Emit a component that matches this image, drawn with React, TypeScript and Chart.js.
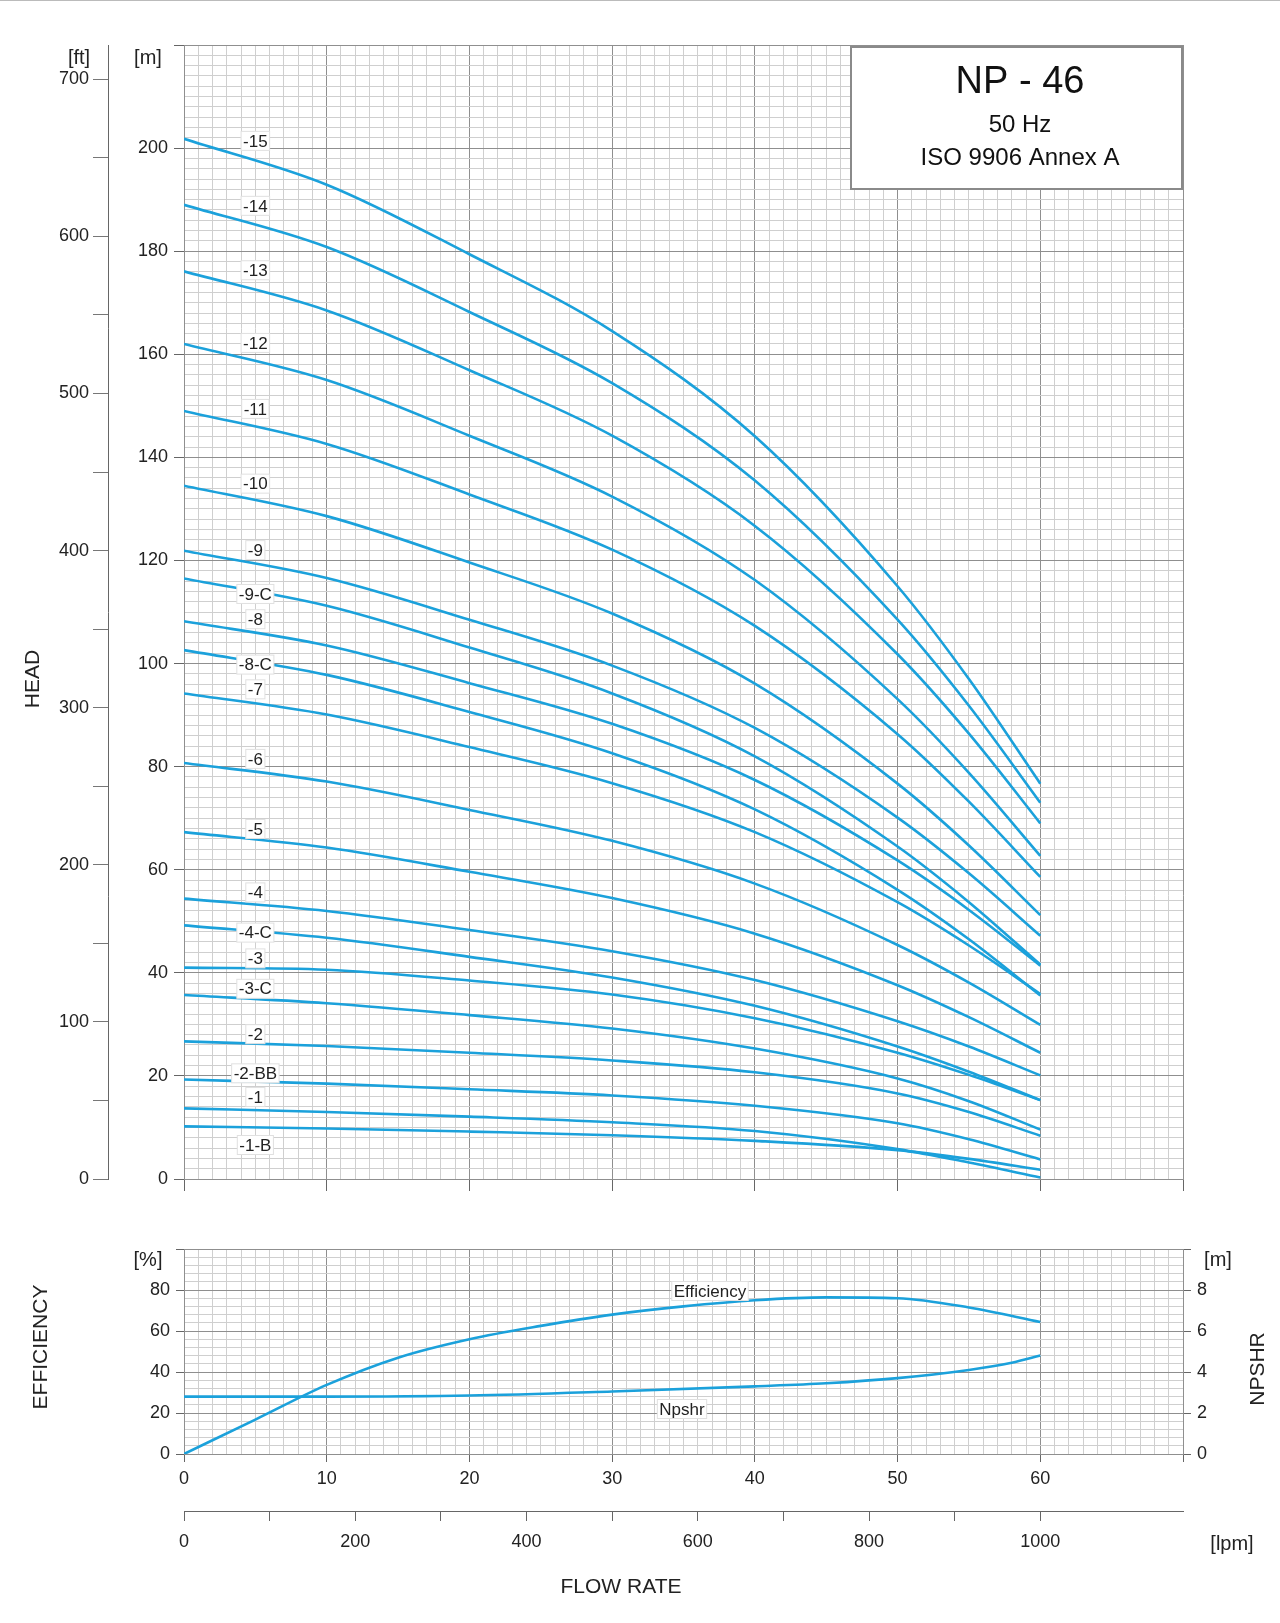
import React, { useEffect, useRef } from "react";
import { Chart, registerables } from "chart.js";
Chart.register(...registerables);

const FLOW = [0, 10, 20, 30, 40, 50, 55, 60];
const CURVE_NAMES = ["-15","-14","-13","-12","-11","-10","-9","-9-C","-8","-8-C","-7","-6","-5","-4","-4-C","-3","-3-C","-2","-2-BB","-1","-1-B"];
const H_15 = [201.8, 192.9, 179.4, 164.5, 144.1, 115.0, 97.0, 76.7];
const H_14 = [189.0, 180.8, 168.2, 154.4, 135.5, 108.5, 91.8, 73.0];
const H_13 = [176.1, 168.5, 156.9, 144.2, 126.7, 101.8, 86.4, 69.0];
const H_12 = [162.0, 155.0, 144.2, 132.4, 116.2, 93.1, 78.8, 62.7];
const H_11 = [149.0, 142.6, 132.8, 122.1, 107.3, 86.3, 73.2, 58.6];
const H_10 = [134.5, 128.6, 119.6, 109.7, 96.1, 76.7, 64.7, 51.2];
const H_9 = [121.9, 116.6, 108.5, 99.6, 87.5, 70.1, 59.3, 47.2];
const H_9C = [116.5, 111.2, 103.1, 94.2, 82.0, 64.5, 53.7, 41.6];
const H_8 = [108.2, 103.5, 96.2, 88.3, 77.4, 61.8, 52.2, 41.4];
const H_8C = [102.6, 97.8, 90.6, 82.6, 71.7, 56.1, 46.5, 35.6];
const H_7 = [94.2, 90.1, 83.8, 76.8, 67.3, 53.7, 45.3, 35.9];
const H_6 = [80.7, 77.1, 71.6, 65.6, 57.3, 45.4, 38.1, 29.9];
const H_5 = [67.3, 64.3, 59.6, 54.5, 47.6, 37.6, 31.4, 24.5];
const H_4 = [54.4, 52.0, 48.3, 44.2, 38.6, 30.6, 25.7, 20.1];
const H_4C = [49.2, 46.8, 43.1, 39.1, 33.6, 25.7, 20.8, 15.3];
const H_3 = [41.0, 40.6, 38.5, 35.8, 31.2, 24.5, 20.2, 15.3];
const H_3C = [35.7, 34.1, 31.8, 29.2, 25.3, 19.5, 15.1, 9.6];
const H_2 = [26.7, 25.8, 24.5, 23.0, 20.7, 16.6, 13.0, 8.4];
const H_2BB = [19.3, 18.5, 17.4, 16.2, 14.2, 10.8, 7.7, 3.8];
const H_1 = [13.7, 13.0, 12.1, 11.0, 9.3, 5.8, 3.2, 0.3];
const H_1B = [10.2, 9.8, 9.2, 8.5, 7.4, 5.6, 3.9, 1.8];
const CURVES = [H_15,H_14,H_13,H_12,H_11,H_10,H_9,H_9C,H_8,H_8C,H_7,H_6,H_5,H_4,H_4C,H_3,H_3C,H_2,H_2BB,H_1,H_1B];
const LABEL_Q = 5;
const LABEL_H = [201.4,188.8,176.3,162.2,149.4,134.9,122,113.5,108.6,99.8,95,81.5,67.9,55.6,47.8,42.8,36.9,28.1,20.5,15.9,6.6];

const EFF_Q = [0, 5, 10, 15, 20, 25, 30, 35, 40, 45, 50, 55, 60];
const EFF = [0, 16.8, 33.7, 47, 56, 62.5, 68, 72, 75, 76.4, 76, 71.5, 64.4];
const NPSH_Q = [0, 10, 20, 30, 40, 45, 50, 55, 58, 60];
const NPSH = [2.8, 2.8, 2.85, 3.05, 3.3, 3.45, 3.7, 4.1, 4.45, 4.8];

const BLUE = "#1ba1db";
const FONT = "Liberation Sans";
const MINOR = "#cfcfcf";
const MAJOR = "#8f8f8f";
const TXT = "#222";

function labelBox(ctx: CanvasRenderingContext2D, text: string, x: number, y: number, size: number) {
  ctx.font = `${size}px "${FONT}"`;
  const w = ctx.measureText(text).width;
  ctx.fillStyle = "#fff";
  ctx.fillRect(x - w / 2 - 2, y - size / 2 - 1, w + 4, size + 2);
  ctx.strokeStyle = "#e0e0e0";
  ctx.lineWidth = 1;
  ctx.strokeRect(x - w / 2 - 2, y - size / 2 - 1, w + 4, size + 2);
  ctx.fillStyle = TXT;
  ctx.textAlign = "center";
  ctx.textBaseline = "middle";
  ctx.fillText(text, x, y + 1);
}

export default function App() {
  const topRef = useRef<HTMLCanvasElement>(null);
  const botRef = useRef<HTMLCanvasElement>(null);

  useEffect(() => {
    const tickFont = { family: FONT, size: 18 };
    const topPlugin = {
      id: "topDecor",
      afterDatasetsDraw(chart: any) {
        const ctx = chart.ctx;
        const xs = chart.scales.x, ys = chart.scales.y;
        ctx.save();
        CURVE_NAMES.forEach((n, i) => labelBox(ctx, n, xs.getPixelForValue(LABEL_Q), ys.getPixelForValue(LABEL_H[i]), 17));
        ctx.fillStyle = "#fff";
        ctx.fillRect(851, 47, 331, 142);
        ctx.strokeStyle = "#8a8a8a";
        ctx.lineWidth = 2;
        ctx.strokeRect(851, 47, 331, 142);
        ctx.fillStyle = "#111";
        ctx.textAlign = "center";
        ctx.textBaseline = "middle";
        ctx.font = `38px "${FONT}"`;
        ctx.fillText("NP - 46", 1020, 83);
        ctx.font = `24px "${FONT}"`;
        ctx.fillText("50 Hz", 1020, 125);
        ctx.fillText("ISO 9906 Annex A", 1020, 158);
        ctx.font = `20px "${FONT}"`;
        ctx.fillStyle = TXT;
        ctx.fillText("[ft]", 79, 58);
        ctx.fillText("[m]", 148, 58);
        ctx.save();
        ctx.translate(33, 679);
        ctx.rotate(-Math.PI / 2);
        ctx.font = `21px "${FONT}"`;
        ctx.fillText("HEAD", 0, 0);
        ctx.restore();
        ctx.fillStyle = "#bbb";
        ctx.fillRect(0, 0, 1280, 1);
        ctx.restore();
      },
    };
    const majorFn = (step: number, major: string, minor: string) => (c: any) =>
      c.tick && Math.abs(c.tick.value % step) < 1e-6 ? major : minor;

    const top = new Chart(topRef.current!, {
      type: "line",
      data: {
        datasets: CURVES.map((h, i) => ({
          label: CURVE_NAMES[i],
          data: FLOW.map((q, j) => ({ x: q, y: h[j] })),
          borderColor: BLUE,
          borderWidth: 2.6,
          pointRadius: 0,
          cubicInterpolationMode: "monotone" as const,
          fill: false,
        })),
      },
      options: {
        animation: false,
        responsive: false,
        layout: { padding: { left: 41, top: 45, right: 97, bottom: 0 } },
        plugins: { legend: { display: false }, tooltip: { enabled: false } },
        scales: {
          x: {
            type: "linear", min: 0, max: 70,
            ticks: { stepSize: 1, display: false, autoSkip: false },
            grid: { color: majorFn(10, MAJOR, MINOR), tickColor: majorFn(10, "#666", "rgba(0,0,0,0)"), tickLength: 12 },
            border: { color: MAJOR },
            afterFit: (s: any) => { s.height = 21; },
          },
          y: {
            type: "linear", position: "left", min: 0, max: 220, weight: 0,
            ticks: { stepSize: 2, autoSkip: false, font: tickFont, color: TXT, padding: 6,
              callback: (v: any) => (v % 20 === 0 && v <= 200 ? String(v) : "") },
            grid: { color: majorFn(20, MAJOR, MINOR), tickColor: majorFn(20, "#666", "rgba(0,0,0,0)"), tickLength: 10 },
            border: { color: MAJOR },
            afterFit: (s: any) => { s.width = 76; },
          },
          yft: {
            type: "linear", position: "left", min: 0, max: 220 * 3.28084, weight: 1,
            ticks: { stepSize: 50, autoSkip: false, font: tickFont, color: TXT, padding: 4,
              callback: (v: any) => (v % 100 === 0 ? String(v) : "") },
            grid: { drawOnChartArea: false, tickLength: 15, tickColor: majorFn(50, "#777", "rgba(0,0,0,0)") },
            border: { display: true, color: "#666" },
            afterFit: (s: any) => { s.width = 67; },
          },
        },
      } as any,
      plugins: [topPlugin],
    });

    const botPlugin = {
      id: "botDecor",
      afterDatasetsDraw(chart: any) {
        const ctx = chart.ctx;
        ctx.save();
        labelBox(ctx, "Efficiency", 710, 91, 17);
        labelBox(ctx, "Npshr", 682, 209, 17);
        ctx.fillStyle = TXT;
        ctx.textAlign = "center";
        ctx.textBaseline = "middle";
        ctx.font = `20px "${FONT}"`;
        ctx.fillText("[%]", 148, 60);
        ctx.fillText("[m]", 1218, 60);
        ctx.fillText("[lpm]", 1232, 344);
        ctx.font = `21px "${FONT}"`;
        ctx.fillText("FLOW RATE", 621, 387);
        ctx.save();
        ctx.translate(41, 147);
        ctx.rotate(-Math.PI / 2);
        ctx.fillText("EFFICIENCY", 0, 0);
        ctx.restore();
        ctx.save();
        ctx.translate(1258, 169);
        ctx.rotate(-Math.PI / 2);
        ctx.fillText("NPSHR", 0, 0);
        ctx.restore();
        ctx.restore();
      },
    };

    const bot = new Chart(botRef.current!, {
      type: "line",
      data: {
        datasets: [
          { label: "Efficiency", yAxisID: "y", data: EFF_Q.map((q, i) => ({ x: q, y: EFF[i] })),
            borderColor: BLUE, borderWidth: 2.6, pointRadius: 0, cubicInterpolationMode: "monotone" },
          { label: "Npshr", yAxisID: "y2", data: NPSH_Q.map((q, i) => ({ x: q, y: NPSH[i] })),
            borderColor: BLUE, borderWidth: 2.6, pointRadius: 0, cubicInterpolationMode: "monotone" },
        ],
      },
      options: {
        animation: false,
        responsive: false,
        layout: { padding: { left: 103, top: 49, right: 35, bottom: 0 } },
        plugins: { legend: { display: false }, tooltip: { enabled: false } },
        scales: {
          x: {
            type: "linear", position: "bottom", min: 0, max: 70, weight: 0,
            ticks: { stepSize: 1, autoSkip: false, font: tickFont, color: TXT, maxRotation: 0, padding: 6,
              callback: (v: any) => (v % 10 === 0 && v <= 60 ? String(v) : "") },
            grid: { color: majorFn(10, MAJOR, MINOR), tickColor: majorFn(10, "#666", "rgba(0,0,0,0)"), tickLength: 8 },
            border: { color: MAJOR },
            afterFit: (s: any) => { s.height = 57; },
          },
          xl: {
            type: "linear", position: "bottom", min: 0, max: 70 * 1000 / 60, weight: 1,
            ticks: { stepSize: 100, autoSkip: false, font: tickFont, color: TXT, maxRotation: 0, padding: 10,
              callback: (v: any) => (v % 200 === 0 && v <= 1000 ? String(v) : "") },
            grid: { drawOnChartArea: false, tickLength: 10, tickColor: majorFn(100, "#666", "rgba(0,0,0,0)") },
            border: { display: true, color: "#666" },
            afterFit: (s: any) => { s.height = 112; },
          },
          y: {
            type: "linear", position: "left", min: 0, max: 100,
            ticks: { stepSize: 4, autoSkip: false, font: tickFont, color: TXT, padding: 6,
              callback: (v: any) => (v % 20 === 0 && v <= 80 ? String(v) : "") },
            grid: { color: majorFn(20, MAJOR, MINOR), tickColor: majorFn(20, "#666", "rgba(0,0,0,0)"), tickLength: 8 },
            border: { color: MAJOR },
            afterFit: (s: any) => { s.width = 81; },
          },
          y2: {
            type: "linear", position: "right", min: 0, max: 10,
            ticks: { stepSize: 2, autoSkip: false, font: tickFont, color: TXT, padding: 6,
              callback: (v: any) => (v <= 8 ? String(v) : "") },
            grid: { drawOnChartArea: false, tickLength: 8, tickColor: "#666" },
            border: { color: MAJOR },
            afterFit: (s: any) => { s.width = 62; },
          },
        },
      } as any,
      plugins: [botPlugin],
    });

    return () => { top.destroy(); bot.destroy(); };
  }, []);

  return (
    <div style={{ position: "absolute", left: 0, top: 0, width: 1280, height: 1623, background: "#fff" }}>
      <canvas ref={topRef} width={1280} height={1200} style={{ position: "absolute", left: 0, top: 0, width: 1280, height: 1200 }} />
      <canvas ref={botRef} width={1280} height={423} style={{ position: "absolute", left: 0, top: 1200, width: 1280, height: 423 }} />
    </div>
  );
}
